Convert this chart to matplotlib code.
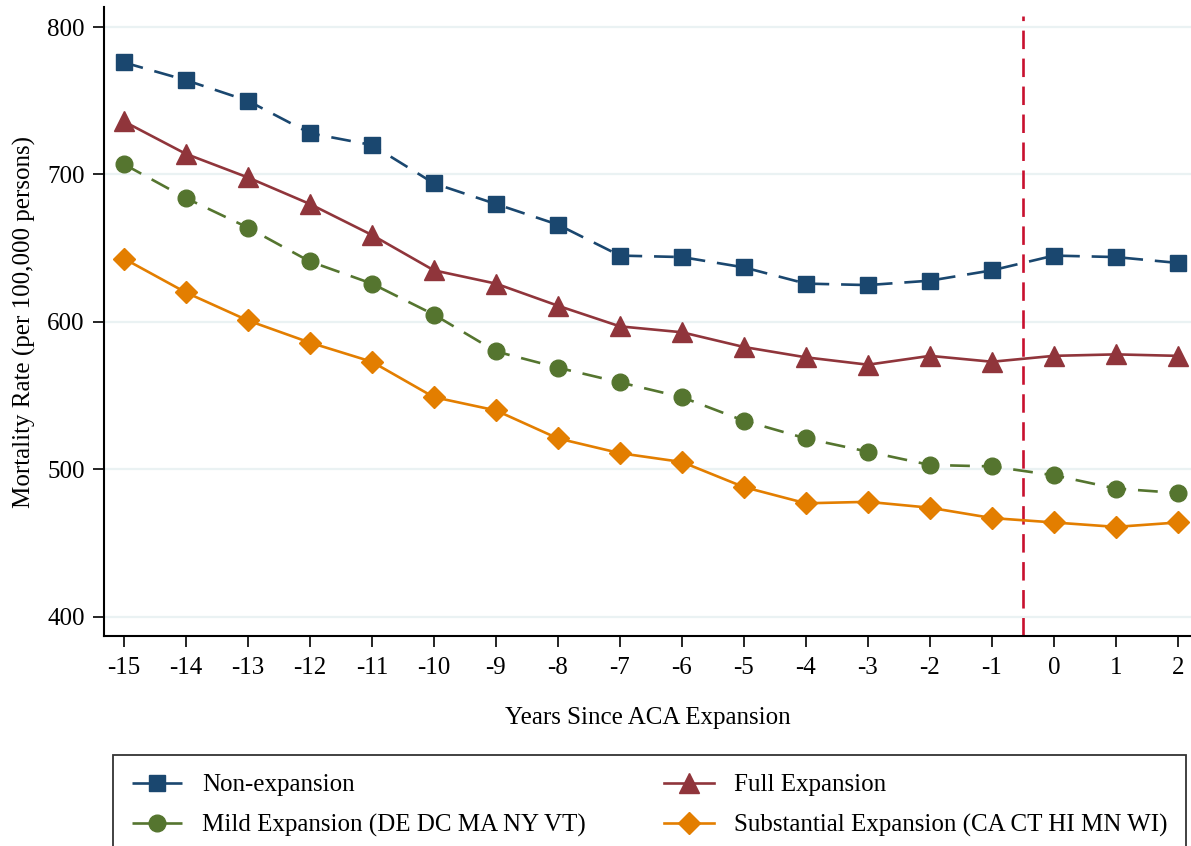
import numpy as np
import matplotlib.pyplot as plt

plt.rcParams['font.family'] = ['Liberation Serif', 'DejaVu Serif']
plt.rcParams['axes.unicode_minus'] = False

years = list(range(-15, 3))
non_expansion = [776, 764, 750, 728, 720, 694, 680, 666, 645, 644, 637, 626, 625, 628, 635, 645, 644, 640]
full_expansion = [736, 714, 698, 680, 659, 635, 626, 611, 597, 593, 583, 576, 571, 577, 573, 577, 578, 577]
mild_expansion = [707, 684, 664, 641, 626, 605, 580, 569, 559, 549, 533, 521, 512, 503, 502, 496, 487, 484]
substantial_expansion = [643, 620, 601, 586, 573, 549, 540, 521, 511, 505, 488, 477, 478, 474, 467, 464, 461, 464]
labels = ['Non-expansion', 'Full Expansion',
          'Mild Expansion (DE DC MA NY VT)', 'Substantial Expansion (CA CT HI MN WI)']
expansion_line = -0.5

navy = '#1a476f'
maroon = '#90353b'
green = '#55752f'
orange = '#e37e00'

fig = plt.figure(figsize=(11.91, 8.46), dpi=100)
ax = fig.add_axes([104/1191, 1-636/846, 1-104/1191, (636-7)/846])

dash = (7.5, 4.5)
l1, = ax.plot(years, non_expansion, color=navy, lw=1.9, dashes=dash,
              marker='s', ms=12, label=labels[0])
l2, = ax.plot(years, full_expansion, color=maroon, lw=1.9,
              marker='^', ms=14, label=labels[1])
l3, = ax.plot(years, mild_expansion, color=green, lw=1.9, dashes=dash,
              marker='o', ms=12, label=labels[2])
l4, = ax.plot(years, substantial_expansion, color=orange, lw=1.9,
              marker='D', ms=11.5, label=labels[3])

ax.axvline(expansion_line, ymax=0.985, color='#c8102e', lw=1.9, dashes=(7, 3.6), zorder=1)

ax.set_xlim(-15.32, 2.21)
ax.set_ylim(387, 813.6)
ax.set_xticks(years)
ax.set_yticks([400, 500, 600, 700, 800])
ax.yaxis.grid(True, color='#eaf2f3', lw=1.6)
ax.set_axisbelow(True)
for s in ['top', 'right']:
    ax.spines[s].set_visible(False)
for s in ['left', 'bottom']:
    ax.spines[s].set_linewidth(1.5)
ax.tick_params(axis='x', length=8, width=1.2, pad=7, labelsize=18)
ax.tick_params(axis='y', length=8, width=1.2, pad=6, labelsize=18)
ax.set_xlabel('Years Since ACA Expansion', fontsize=18, labelpad=20)
ax.set_ylabel('Mortality Rate (per 100,000 persons)', fontsize=18, labelpad=8)

leg = fig.legend(handles=[l1, l3, l2, l4], ncol=2, loc='upper left',
                 bbox_to_anchor=(113/1191, 1-755/846-0.01, (1186-113)/1191, 0.01),
                 mode='expand', borderaxespad=0, fontsize=18, frameon=True,
                 fancybox=False, edgecolor='black', handlelength=2.0,
                 handletextpad=0.8, labelspacing=0.72, borderpad=0.75,
                 columnspacing=3)
leg.get_frame().set_linewidth(1.3)

plt.savefig('out.png', dpi=100)
